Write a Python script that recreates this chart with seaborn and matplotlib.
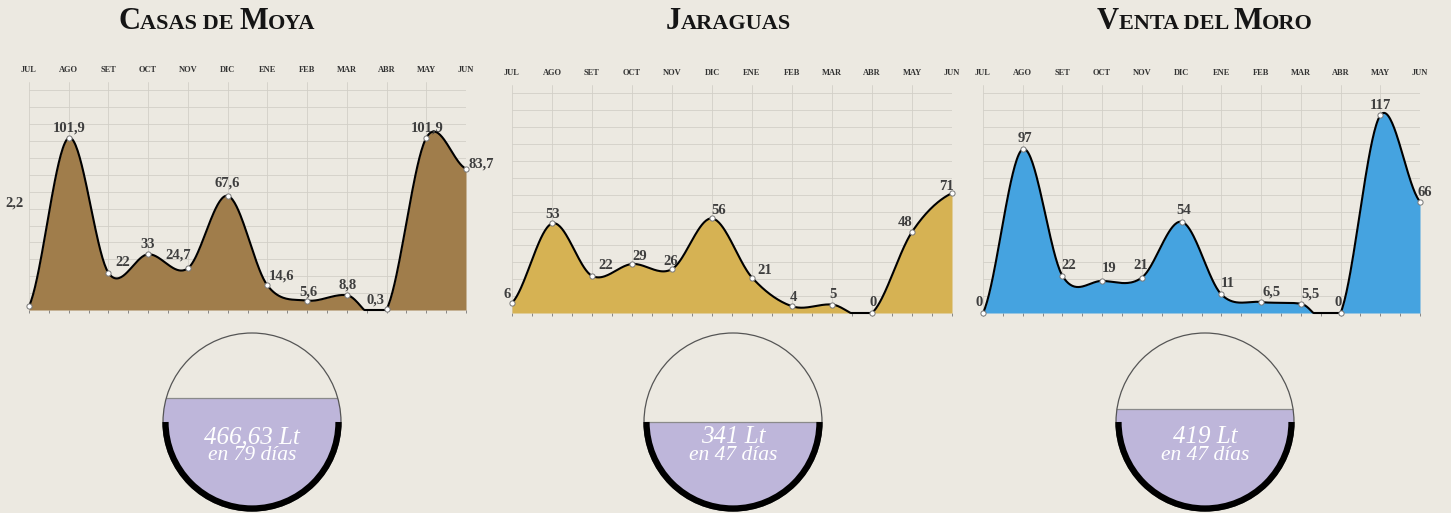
import numpy as np
import matplotlib
matplotlib.use("Agg")
import matplotlib.pyplot as plt
import seaborn as sns
from matplotlib.patches import Circle, Arc, Rectangle

W, H = 1451, 513

# --- data ---------------------------------------------------------------
meses = ["JUL", "AGO", "SET", "OCT", "NOV", "DIC", "ENE", "FEB", "MAR", "ABR", "MAY", "JUN"]
estaciones = ["Casas de Moya", "Jaraguas", "Venta del Moro"]
casas_moya = [2.2, 101.9, 22, 33, 24.7, 67.6, 14.6, 5.6, 8.8, 0.3, 101.9, 83.7]
jaraguas = [6, 53, 22, 29, 26, 56, 21, 4, 5, 0, 48, 71]
venta_moro = [0, 97, 22, 19, 21, 54, 11, 6.5, 5.5, 0, 117, 66]
totales = ["466,63", "341", "419"]
dias = [79, 47, 47]
nivel = [0.635, 0.50, 0.573]  # gauge fill, fraction of the diameter

# --- styling ------------------------------------------------------------
colores = ["#A07D4B", "#D6B253", "#45A3E0"]
lavanda = "#BEB6DA"
fondo = "#ECE9E1"

# axes boxes in pixels: x of JUL, x of JUN, baseline y
cajas = [(29, 466, 310), (512, 952, 313), (983, 1420, 313)]
alto_px = 228
y_max = 135

# label offsets (px, right / up) for each point
offsets = [
    [(-14, 103), (0, 10), (14, 10), (0, 10), (-10, 13), (0, 13), (14, 9), (1, 9), (1, 10), (-11, 9), (1, 10), (15, 5)],
    [(-5, 8), (1, 9), (14, 10), (8, 8), (-1, 8), (7, 8), (13, 7), (1, 9), (1, 10), (1, 10), (-7, 9), (-6, 7)],
    [(-4, 11), (2, 11), (6, 10), (7, 12), (-1, 12), (2, 11), (6, 11), (10, 10), (10, 10), (-2, 10), (0, 10), (5, 9)],
]
centros_titulo = [217, 728, 1205]
centros_gauge = [252, 733, 1205]


def catmull_rom(y, n=40):
    # smooth curve through the monthly points (cardinal spline, tension 0)
    y = np.asarray(y, float)
    k = len(y)
    yp = np.concatenate([[y[0]], y, [y[-1]]])
    m = (yp[2:] - yp[:-2]) / 2
    xs = np.linspace(0, k - 1, (k - 1) * n + 1)
    i = np.minimum(xs.astype(int), k - 2)
    t = xs - i
    h00 = 2 * t ** 3 - 3 * t ** 2 + 1
    h10 = t ** 3 - 2 * t ** 2 + t
    h01 = -2 * t ** 3 + 3 * t ** 2
    h11 = t ** 3 - t ** 2
    ys = h00 * y[i] + h10 * m[i] + h01 * y[i + 1] + h11 * m[i + 1]
    return xs, ys


def fmt(v):
    return f"{v:g}".replace(".", ",")


def small_caps(fig, texto, cx, y, big=22, small=16):
    # group characters in runs of the same size
    runs = []
    for ch in texto:
        size = big if ch.isupper() else small
        if runs and runs[-1][1] == size:
            runs[-1][0] += ch.upper()
        else:
            runs.append([ch.upper(), size])
    renderer = fig.canvas.get_renderer()
    textos, anchos = [], []
    for s, size in runs:
        t = fig.text(0, (H - y) / H, s, fontsize=size, fontweight="bold",
                     color="#151515", va="baseline", ha="left")
        textos.append(t)
        anchos.append(t.get_window_extent(renderer).width)
    x = cx - sum(anchos) / 2
    for t, w in zip(textos, anchos):
        t.set_x(x / W)
        x += w


sns.set_theme(style="white")
plt.rcParams["font.family"] = ["Liberation Serif", "DejaVu Serif"]

fig = plt.figure(figsize=(W / 100, H / 100), dpi=100, facecolor=fondo)

series = [casas_moya, jaraguas, venta_moro]
for k, (valores, color, (x0, x1, base)) in enumerate(zip(series, colores, cajas)):
    ax = fig.add_axes([x0 / W, (H - base) / H, (x1 - x0) / W, alto_px / H])
    ax.set_facecolor("none")
    xs, ys = catmull_rom(valores)
    ys = np.maximum(ys, 0)
    ax.fill_between(xs, ys, 0, color=color, lw=0, zorder=2)
    sns.lineplot(x=xs, y=ys, ax=ax, color="black", lw=1.5, sort=False,
                 estimator=None, zorder=3, clip_on=False)
    sns.scatterplot(x=np.arange(len(valores)), y=valores, ax=ax, s=14, color="white",
                    edgecolor="#777777", linewidth=0.7, zorder=4, clip_on=False)
    for j, v in enumerate(valores):
        dx, dy = offsets[k][j]
        ax.annotate(fmt(v), (j, v), xytext=(dx * 0.72, dy * 0.72), textcoords="offset points",
                    ha="center", va="center", fontsize=10.5, fontweight="bold",
                    color="#3E3E3E", annotation_clip=False, zorder=5)

    ax.set_xlim(0, len(meses) - 1)
    ax.set_ylim(0, y_max)
    ax.set_xticks(range(len(meses)))
    ax.set_xticklabels(meses, fontsize=6, fontweight="bold", color="#333333")
    ax.set_xticks(np.arange(0, len(meses) - 0.9, 0.5), minor=True)
    ax.xaxis.remove_overlapping_locs = False
    ax.set_yticks(range(0, 131, 10))
    ax.tick_params(axis="x", which="major", top=True, labeltop=True, bottom=False,
                   labelbottom=False, length=0, pad=6)
    ax.tick_params(axis="x", which="minor", bottom=True, top=False, length=2.5,
                   width=0.6, color="#777777", direction="out")
    ax.tick_params(axis="y", left=False, labelleft=False)
    ax.grid(True, which="major", color="#D2CFC7", lw=0.6, zorder=0)
    ax.set_xlabel("")
    ax.set_ylabel("")
    sns.despine(ax=ax, left=True, bottom=True)

# gauges
ax_c = fig.add_axes([0, 0, 1, 1], zorder=-1)
ax_c.set_xlim(0, W)
ax_c.set_ylim(H, 0)
ax_c.axis("off")
cy, r = 422, 89
for cx, nv, tot, d in zip(centros_gauge, nivel, totales, dias):
    borde = Circle((cx, cy), r, fill=False, ec="#555555", lw=0.9, zorder=3)
    ax_c.add_patch(borde)
    nivel_y = cy + r - nv * 2 * r
    agua = Rectangle((cx - r, nivel_y), 2 * r, cy + r - nivel_y, color=lavanda, lw=0, zorder=1)
    ax_c.add_patch(agua)
    agua.set_clip_path(borde)
    linea, = ax_c.plot([cx - r, cx + r], [nivel_y, nivel_y], color="#8A8A8A", lw=0.9, zorder=2)
    linea.set_clip_path(borde)
    ax_c.add_patch(Arc((cx, cy), 2 * (r - 2.5), 2 * (r - 2.5), theta1=0, theta2=180,
                       color="black", lw=4.5, zorder=4))
    ax_c.text(cx, 437, f"{tot} Lt", ha="center", va="center", color="white",
              style="italic", fontsize=18, zorder=5)
    ax_c.text(cx, 456, f"en {d} días", ha="center", va="center", color="white",
              style="italic", fontsize=15.5, zorder=5)

for nombre, cx in zip(estaciones, centros_titulo):
    small_caps(fig, nombre, cx, 29)

fig.savefig("out.png", dpi=100, facecolor=fig.get_facecolor())
